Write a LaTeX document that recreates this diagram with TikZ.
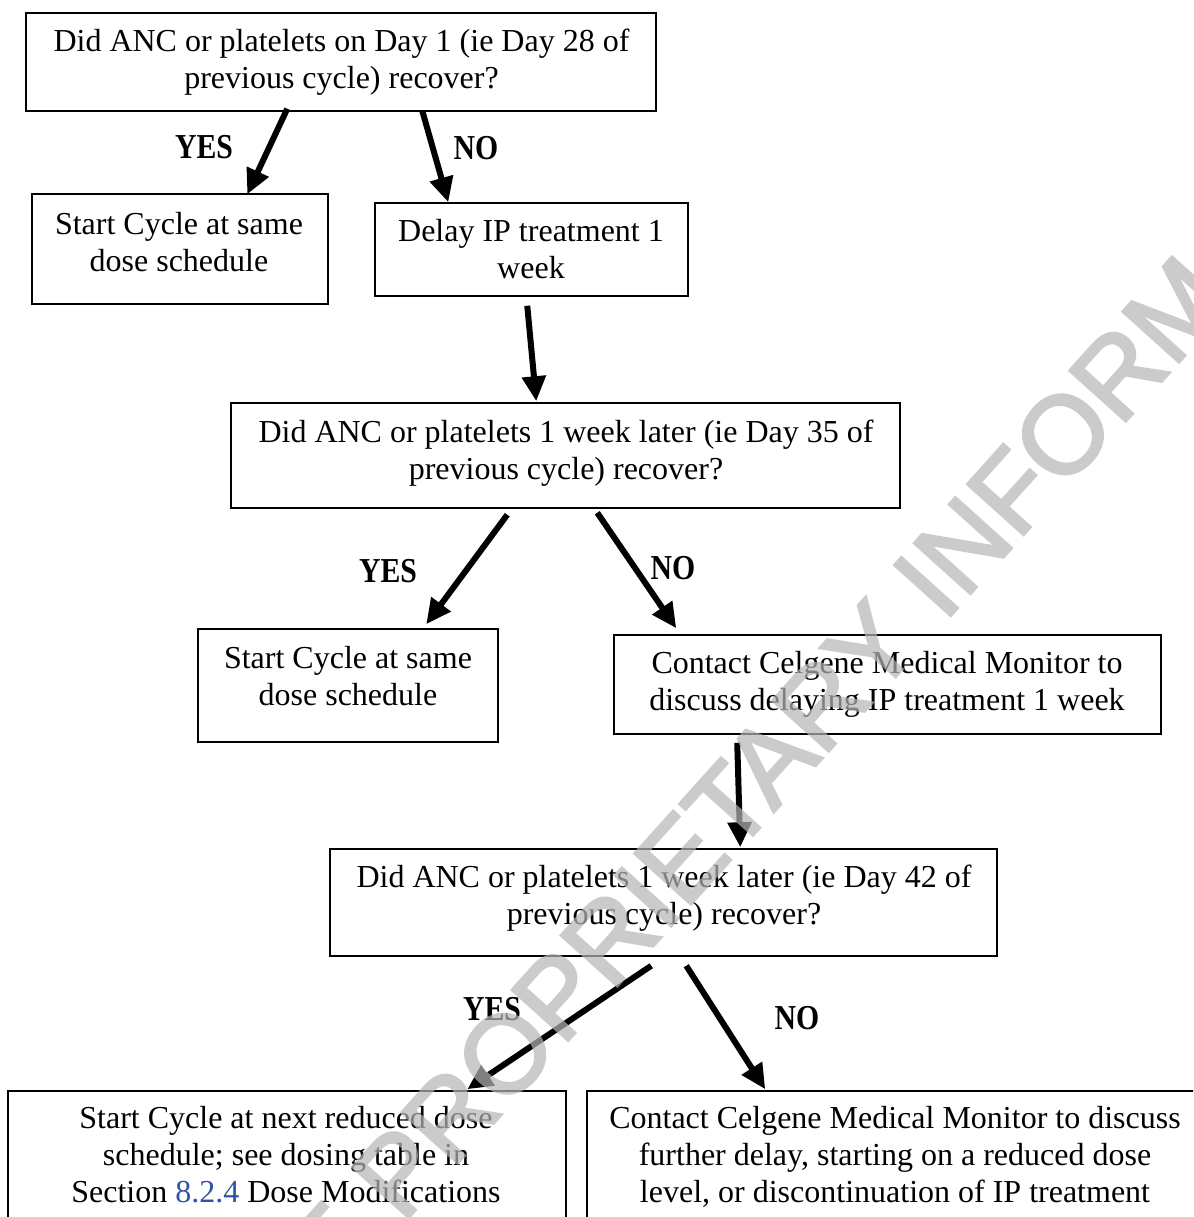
\documentclass[tikz,border=0pt]{standalone}
\usepackage{fontspec}
\setmainfont{Liberation Serif}
\newfontfamily\wmfont[FakeBold=2.5]{Liberation Sans}
\usepackage{graphicx}
\usetikzlibrary{arrows.meta,calc}
\definecolor{linkblue}{RGB}{46,84,166}
\definecolor{wmgray}{RGB}{182,182,182}
\newcommand{\yeslbl}[1]{\scalebox{0.85}[1]{\bfseries #1}}
\tikzset{
  box/.style={draw=black, line width=1.5pt, inner sep=0pt, fill=none},
  txt/.style={inner sep=0pt, align=center, anchor=north,
              font=\fontsize{32}{37}\selectfont},
  lbl/.style={inner sep=0pt, anchor=base, font=\fontsize{35}{40}\selectfont},
  arr/.style={draw=black, line width=6pt,
              -{Triangle[length=25pt,width=23pt]}},
  wm/.style={inner sep=0pt, text=wmgray,
             font=\wmfont\fontsize{110}{120}\selectfont}
}
\begin{document}
\begin{tikzpicture}[x=1pt,y=-1pt]
\useasboundingbox (0,0) rectangle (1193,1217);
\clip (0,0) rectangle (1193,1217);
\fill[white] (0,0) rectangle (1193,1217);

% boxes
\node[box, minimum width=630pt, minimum height=98pt]  (b1) at (341,62) {};
\node[box, minimum width=296pt, minimum height=110pt] (b2) at (180,249) {};
\node[box, minimum width=313pt, minimum height=93pt]  (b3) at (531.5,249.5) {};
\node[box, minimum width=669pt, minimum height=105pt] (b4) at (565.5,455.5) {};
\node[box, minimum width=300pt, minimum height=113pt] (b5) at (348,685.5) {};
\node[box, minimum width=547pt, minimum height=99pt]  (b6) at (887.5,684.5) {};
\node[box, minimum width=667pt, minimum height=107pt] (b7) at (663.5,902.5) {};
\node[box, minimum width=558pt, minimum height=149pt] (b8) at (287,1165.5) {};
\node[box, minimum width=623pt, minimum height=149pt] (b9) at (898.5,1165.5) {};

% texts
\node[txt] (t1) at (341.5,25) {\strut Did ANC or platelets on Day 1 (ie Day 28 of\\previous cycle) recover?};
\node[txt] (t2) at (179,208) {\strut Start Cycle at same\\dose schedule};
\node[txt] (t3) at (531,215) {\strut Delay IP treatment 1\\week};
\node[txt] (t4) at (566,416) {\strut Did ANC or platelets 1 week later (ie Day 35 of\\previous cycle) recover?};
\node[txt] (t5) at (348,642) {\strut Start Cycle at same\\dose schedule};
\node[txt] (t6) at (887,647) {\strut Contact Celgene Medical Monitor to\\discuss delaying IP treatment 1 week};
\node[txt] (t7) at (664,861) {\strut Did ANC or platelets 1 week later (ie Day 42 of\\previous cycle) recover?};
\node[txt] (t8) at (286,1102) {\strut Start Cycle at next reduced dose\\schedule; see dosing table in\\Section \textcolor{linkblue}{8.2.4} Dose Modifications};
\node[txt] (t9) at (895,1102) {\strut Contact Celgene Medical Monitor to discuss\\further delay, starting on a reduced dose\\level, or discontinuation of IP treatment};

% labels
\node[lbl] (y1) at (204,159) {\yeslbl{YES}};
\node[lbl] (n1) at (476,160) {\yeslbl{NO}};
\node[lbl] (y2) at (388,582) {\yeslbl{YES}};
\node[lbl] (n2) at (673,579) {\yeslbl{NO}};
\node[lbl] (y3) at (492,1020) {\yeslbl{YES}};
\node[lbl] (n3) at (797,1029) {\yeslbl{NO}};

% arrows
\draw[arr] ($(b1.south west)+(262,-3)$) -- ($(b2.north west)+(216,1)$);
\draw[arr] ($(b1.south west)+(397,-1)$) -- ($(b3.north west)+(74,0)$);
\draw[arr] ($(b3.south west)+(153,9)$) -- ($(b4.north west)+(306,-1)$);
\draw[arr] ($(b4.south west)+(277,6)$) -- ($(b5.north west)+(229,-4)$);
\draw[arr] ($(b4.south west)+(367,4)$) -- ($(b6.north west)+(63,-6)$);
\draw[arr] ($(b6.south west)+(124,8)$) -- ($(b7.north west)+(411,-1)$);
\draw[arr] ($(b7.south west)+(322,9)$) -- ($(b8.north west)+(460,-1)$);
\draw[arr] ($(b7.south west)+(357,9)$) -- ($(b9.north west)+(179,-1)$);

% watermark
\begin{scope}[transparency group, opacity=0.7]
\node[wm, rotate=48] (wm) at (714,822) {CELGENE PROPRIETARY INFORMATION};
\end{scope}
\end{tikzpicture}
\end{document}
